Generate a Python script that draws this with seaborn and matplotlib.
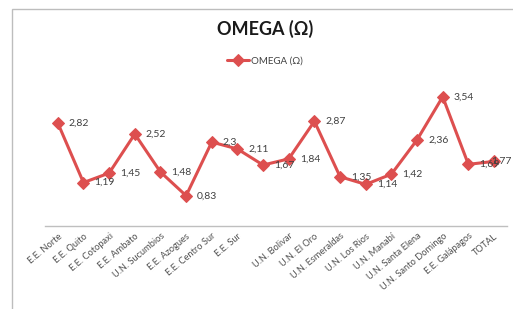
import matplotlib
matplotlib.use("Agg")
import matplotlib.pyplot as plt
import matplotlib.patches as mpatches
import seaborn as sns
import pandas as pd

# categories (9th label is blank in the source chart)
unidades = ["E.E. Norte", "E.E. Quito", "E.E. Cotopaxi", "E.E. Ambato", "U.N. Sucumbios",
            "E.E. Azogues", "E.E. Centro Sur", "E.E. Sur", "", "U.N. Bolivar", "U.N. El Oro",
            "U.N. Esmeraldas", "U.N. Los Rios", "U.N. Manabí", "U.N. Santa Elena",
            "U.N. Santo Domingo", "E.E. Galápagos", "TOTAL"]
omega = [2.82, 1.19, 1.45, 2.52, 1.48, 0.83, 2.3, 2.11, 1.67, 1.84, 2.87,
         1.35, 1.14, 1.42, 2.36, 3.54, 1.69, 1.77]

df = pd.DataFrame({"pos": range(len(unidades)), "OMEGA (Ω)": omega})

sns.set_style("white")
plt.rcParams['font.family'] = ['Lato', 'DejaVu Sans']
red = "#DD4F4F"

fig = plt.figure(figsize=(5.13, 3.09), dpi=100)
ax = fig.add_axes([0.0877, 0.2686, 0.9003, 0.4725])

sns.lineplot(data=df, x="pos", y="OMEGA (Ω)", ax=ax, color=red, linewidth=2.2,
             marker="D", markersize=6.5, markeredgecolor=red, label="OMEGA (Ω)")

# data labels to the right of each point (last one squeezed in like the original)
for i, v in enumerate(omega):
    dx = 8 if i < len(omega) - 1 else -2
    ax.annotate(str(v).replace(".", ","), (i, v), xytext=(dx, 0), textcoords="offset points",
                ha="left", va="center", fontsize=7.5, color="#404040")

ax.set_xlim(-0.5, len(unidades) - 0.5)
ax.set_ylim(0, 4)
ax.set_xticks(range(len(unidades)))
ax.set_xticklabels(unidades, rotation=40, ha="right", rotation_mode="anchor",
                   fontsize=6.7, color="#505050")
ax.tick_params(axis="x", length=0, pad=4)
ax.set_yticks([])
ax.set_xlabel("")
ax.set_ylabel("")
for s in ["top", "right", "left"]:
    ax.spines[s].set_visible(False)
ax.spines["bottom"].set_color("#BFBFBF")
ax.spines["bottom"].set_linewidth(1)

fig.suptitle("OMEGA (Ω)", x=0.517, y=0.935, fontsize=13, fontweight="bold", color="#1a1a1a")
ax.legend(loc="upper center", bbox_to_anchor=(0.517, 0.845), bbox_transform=fig.transFigure,
          frameon=False, fontsize=7, handlelength=2.2, handletextpad=0.3, labelcolor="#404040")

# chart frame (top and left edges visible)
fig.add_artist(mpatches.Rectangle((12 / 513, -0.1), 1.2, 1.1 - 9 / 309,
                                  transform=fig.transFigure, fill=False,
                                  edgecolor="#BDBDBD", linewidth=1))

fig.savefig("out.png", dpi=100)
